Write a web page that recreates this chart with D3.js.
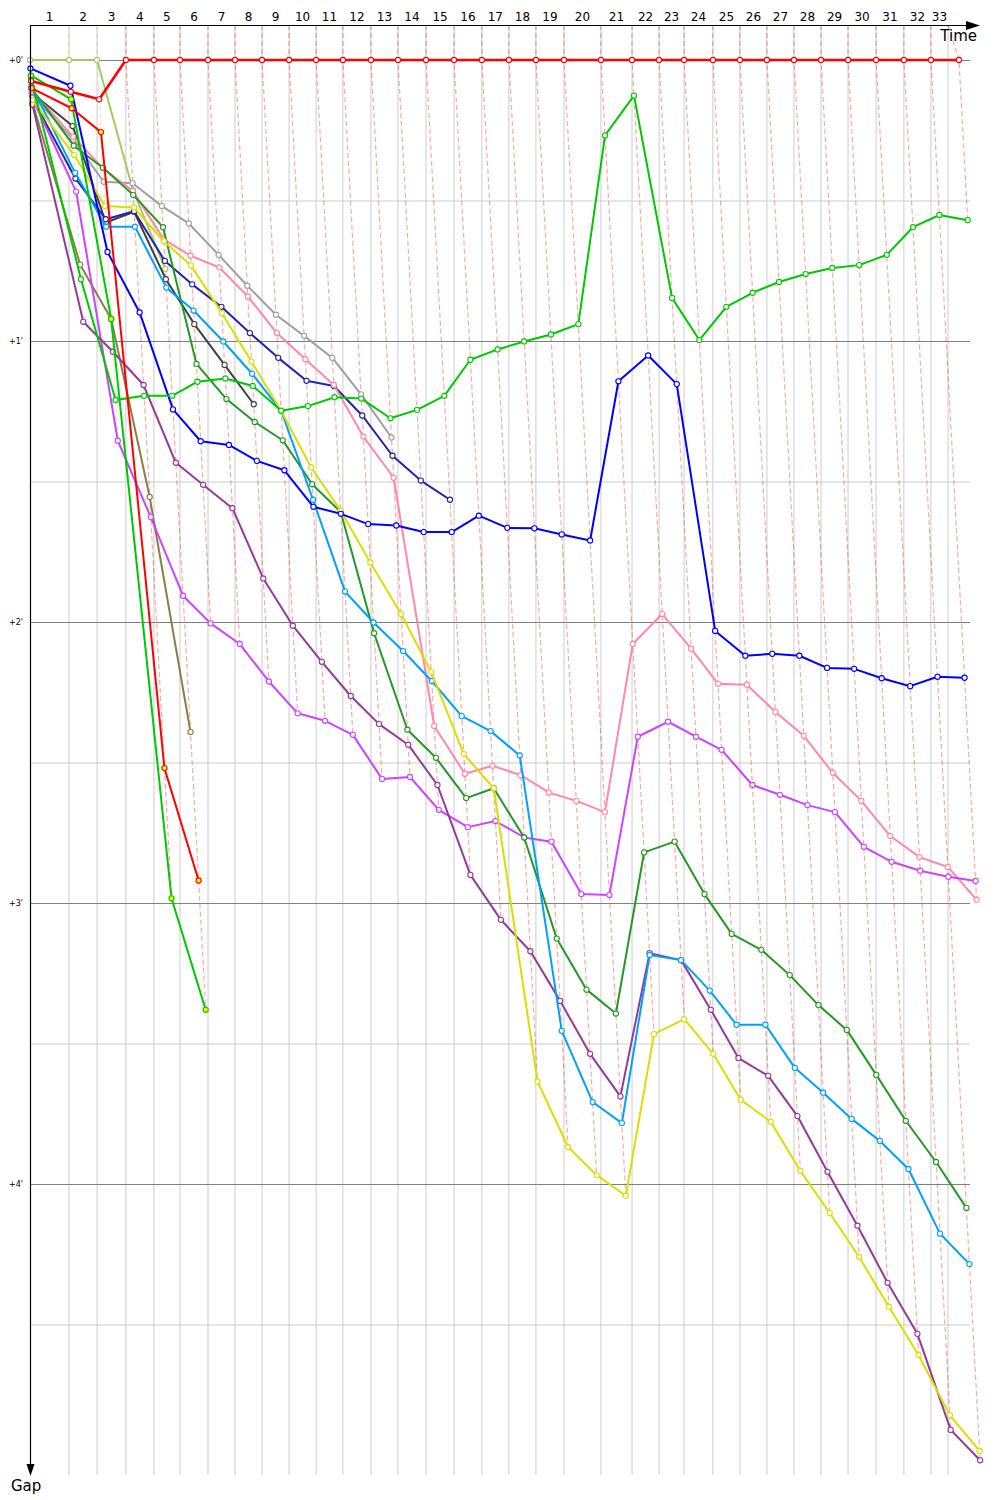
<!DOCTYPE html>
<html><head><meta charset="utf-8">
<script src="https://cdn.jsdelivr.net/npm/d3@7/dist/d3.min.js"></script>
<style>body{margin:0;background:#fff}</style>
</head><body>
<svg id="chart" width="1000" height="1500"></svg>
<script>
// leader crossing time of each lap in seconds (index 0 = start)
var leaderTimes = [0, 153, 263, 376, 486, 588, 698, 804, 910, 1016, 1122, 1227, 1337, 1443, 1553, 1663, 1772, 1878, 1984, 2094,
  2239, 2361, 2467, 2565, 2678, 2784, 2890, 2996, 3102, 3208, 3318, 3427, 3533, 3643];
var timeLimit = 3600;
var lapLabels = d3.range(1, 34);
var minuteTicks = [0, 60, 120, 180, 240];
var halfTicks = [30, 90, 150, 210, 270];

// gap to leader (s) at each lap, one array per car
var gapRed = [4.5, 6.8, 8.4].concat(d3.range(31).map(function () { return 0; }));
var gapLime = [0, 0, 0, 27.8, 44.6];
var gapBlue = [1.8, 5.5, 41.0, 53.9, 74.6, 81.4, 82.2, 85.6, 87.6, 95.4, 96.9, 99.1, 99.4, 100.8, 100.8, 97.3, 99.9, 100.0, 101.3, 102.6,
  68.6, 63.1, 69.2, 121.9, 127.2, 126.8, 127.2, 129.8, 130.0, 132.0, 133.7, 131.7, 131.9];
var gapNavy = [8, 25.3, 34.0, 32.3, 42.9, 47.9, 52.7, 58.3, 63.6, 68.5, 69.6, 75.9, 84.5, 89.8, 93.9];
var gapYellow = [8.5, 20.3, 31.2, 31.5, 38.7, 43.9, 54, 64.4, 74.9, 87.0, 96.2, 107.3, 118.3, 130.7, 148.2, 155.5, 218.1, 232.1, 238.1, 242.5,
  208.0, 204.8, 212.2, 222.0, 226.7, 237.2, 246.2, 255.6, 266.2, 276.5, 289.4, 297.0];
var gapPink = [6.5, 16.4, 23.1, 28, 38.3, 41.8, 44.3, 50.5, 58.3, 63.9, 69.4, 80.4, 89.2, 142.2, 152.4, 150.7, 152.7, 156.4, 158.2, 160.6,
  124.7, 118.3, 125.7, 133.2, 133.4, 139.2, 144.3, 152.2, 158.2, 165.7, 170.2, 172.3, 179.3];
var gapMagenta = [8, 28.1, 81.3, 97.6, 114.4, 120.3, 124.7, 132.7, 139.5, 141.1, 144.1, 153.5, 153.1, 160.1, 163.8, 162.5, 166.0, 166.9, 178.1, 178.3,
  144.5, 141.3, 144.5, 147.3, 154.8, 156.9, 159.1, 160.6, 168.0, 171.2, 173.1, 174.4, 175.3];
var gapPurple = [9.5, 55.9, 62.3, 69.4, 86.0, 90.7, 95.7, 110.7, 120.8, 128.5, 135.8, 141.8, 146.2, 154.8, 174.0, 183.6, 190.3, 200.9, 212.2, 221.3,
  190.7, 192.2, 202.8, 213.1, 216.9, 225.5, 237.4, 248.9, 261.1, 272.0, 292.5, 299.0];
var gapDarkGreen = [6, 18.3, 23, 28.8, 35.7, 64.9, 72.4, 77.3, 81.2, 90.6, 96.5, 122.4, 143.0, 149.0, 157.6, 155.5, 166.0, 187.6, 198.5, 203.6,
  169.2, 166.9, 178.1, 186.6, 190.0, 195.4, 201.8, 207.1, 216.7, 226.5, 235.3, 245.1];
var gapGreen = [3.8, 46.8, 72.6, 71.7, 71.7, 68.7, 68.0, 69.6, 74.9, 73.9, 72.0, 72.3, 76.5, 74.7, 71.7, 64.0, 61.8, 60.1, 58.6, 56.4,
  16.1, 7.6, 50.8, 59.8, 52.7, 49.7, 47.4, 45.7, 44.4, 43.8, 41.6, 35.7, 33.1, 34.2];
var gapGray = [7.5, 17, 26.0, 26.3, 31.2, 34.9, 41.6, 48.2, 54.4, 58.9, 63.6, 71.4, 80.6];
var gapBlack = [7, 14.1, 34.7, 32.4, 46.8, 56.4, 65.1, 73.5];
var gapOlive = [9, 43.7, 55.3, 93.3, 143.5];
var gapGreen2 = [3.3, 8.4, 55.3, 179.0, 202.8];
var gapRed2 = [6, 10.3, 15.4, 151.2, 175.2];
var gapSky = [5.5, 24.1, 35.6, 35.6, 48.6, 53.5, 60.1, 67.0, 74.9, 93.9, 113.5, 120.1, 126.2, 132.6, 140.1, 143.3, 148.5, 207.3, 222.5, 227.0,
  191.1, 192.2, 198.7, 206.0, 206.0, 215.2, 220.5, 226.1, 230.8, 236.8, 250.6, 257.1];

var cars = [
  {gaps: gapLime, color: "#a8c864", fill: "#fff"},
  {gaps: gapOlive, color: "#8a7d46", fill: "#fff"},
  {gaps: gapBlack, color: "#404040", fill: "#fff"},
  {gaps: gapGray, color: "#a0a0a0", fill: "#fff"},
  {gaps: gapNavy, color: "#2424a8", fill: "#fff"},
  {gaps: gapPink, color: "#ff88aa", fill: "#fff"},
  {gaps: gapMagenta, color: "#cc44ff", fill: "#fff"},
  {gaps: gapPurple, color: "#933a9c", fill: "#fff"},
  {gaps: gapDarkGreen, color: "#229922", fill: "#fff"},
  {gaps: gapSky, color: "#00a0ff", fill: "#fff"},
  {gaps: gapYellow, color: "#dddd00", fill: "#fff"},
  {gaps: gapBlue, color: "#0000ff", fill: "#fff"},
  {gaps: gapGreen, color: "#00c800", fill: "#fff"},
  {gaps: gapGreen2, color: "#00c800", fill: "#ffff00"},
  {gaps: gapRed2, color: "#ff0000", fill: "#ffff00"},
  {gaps: gapRed, color: "#ff0000", fill: "#fff", width: 2.6}
];

var svg = d3.select("#chart");
var font = "DejaVu Sans, Verdana, sans-serif";
var plotTop = 25, plotBottom = 1475, plotLeft = 30, plotRight = 970;

var x = d3.scaleLinear().domain([0, timeLimit]).range([30, 948]);
var y = d3.scaleLinear().domain([0, 60]).range([60, 341]);

var gridTimes = leaderTimes.slice(1, 33).concat([timeLimit]);
var bounds = [0].concat(gridTimes);

// grid
svg.append("g").selectAll("line").data(gridTimes).enter().append("line")
  .attr("x1", function (d) { return x(d); }).attr("x2", function (d) { return x(d); })
  .attr("y1", plotTop).attr("y2", plotBottom).attr("stroke", "#cccccc").attr("stroke-width", 1);
svg.append("g").selectAll("line").data(halfTicks).enter().append("line")
  .attr("x1", plotLeft).attr("x2", plotRight).attr("y1", function (d) { return y(d) + 0.5; }).attr("y2", function (d) { return y(d) + 0.5; })
  .attr("stroke", "#cccccc");
svg.append("g").selectAll("line").data(minuteTicks).enter().append("line")
  .attr("x1", plotLeft).attr("x2", plotRight).attr("y1", function (d) { return y(d) + 0.5; }).attr("y2", function (d) { return y(d) + 0.5; })
  .attr("stroke", "#808080");
svg.append("g").selectAll("text").data(minuteTicks).enter().append("text")
  .attr("x", 23).attr("y", function (d) { return y(d) + 3; }).attr("text-anchor", "end")
  .attr("font-family", font).attr("font-size", 8).text(function (d) { return "+" + (d / 60) + "'"; });

// lap columns (dashed, coloured by the leader of that lap)
var lapCols = d3.range(1, 34).map(function (lap) {
  var pts = [];
  var lead = null;
  cars.forEach(function (c) {
    if (lap < c.gaps.length) {
      pts.push([leaderTimes[lap] + c.gaps[lap], c.gaps[lap]]);
      if (c.gaps[lap] === 0) lead = c;
    }
  });
  pts.sort(function (a, b) { return a[1] - b[1]; });
  return {lap: lap, color: lead.color, pts: [[gridTimes[lap - 1], y.invert(plotTop)]].concat(pts)};
});
var colLine = d3.line().x(function (d) { return x(d[0]); }).y(function (d) { return y(d[1]); });
svg.append("g").selectAll("path").data(lapCols).enter().append("path")
  .attr("d", function (d) { return colLine(d.pts); })
  .attr("fill", "none").attr("stroke", function (d) { return d.color; })
  .attr("stroke-opacity", 0.35).attr("stroke-dasharray", "5,3").attr("stroke-width", 1.2);

// car lines
var carLine = d3.line().x(function (d, i) { return x(leaderTimes[i] + d); }).y(function (d) { return y(d); });
var carG = svg.append("g").selectAll("g").data(cars).enter().append("g");
carG.append("path").attr("d", function (c) { return carLine(c.gaps); })
  .attr("fill", "none").attr("stroke", function (c) { return c.color; })
  .attr("stroke-width", function (c) { return c.width || 2; }).attr("stroke-linejoin", "round");
carG.each(function (c) {
  d3.select(this).selectAll("circle").data(c.gaps).enter().append("circle")
    .attr("cx", function (d, i) { return x(leaderTimes[i] + d); }).attr("cy", function (d) { return y(d); })
    .attr("r", 2.6).attr("fill", c.fill).attr("stroke", c.color).attr("stroke-width", 1.1);
});

// axes
svg.append("line").attr("x1", plotLeft).attr("x2", 972).attr("y1", plotTop + 0.5).attr("y2", plotTop + 0.5).attr("stroke", "#000").attr("stroke-width", 1.2);
svg.append("path").attr("d", "M966,21L980,25.5L966,30Z").attr("fill", "#000");
svg.append("line").attr("x1", plotLeft + 0.5).attr("x2", plotLeft + 0.5).attr("y1", plotTop).attr("y2", 1468).attr("stroke", "#000").attr("stroke-width", 1.2);
svg.append("path").attr("d", "M26.5,1464L30.5,1476L34.5,1464Z").attr("fill", "#000");
svg.append("text").attr("x", 977).attr("y", 41).attr("text-anchor", "end").attr("font-family", font).attr("font-size", 15).text("Time");
svg.append("text").attr("x", 11).attr("y", 1491).attr("font-family", font).attr("font-size", 15).text("Gap");

svg.append("g").selectAll("text").data(lapLabels).enter().append("text")
  .attr("x", function (d) { return x((bounds[d - 1] + bounds[d]) / 2); }).attr("y", 21)
  .attr("text-anchor", "middle").attr("font-family", font).attr("font-size", 12).text(function (d) { return d; });
</script>
</body></html>
